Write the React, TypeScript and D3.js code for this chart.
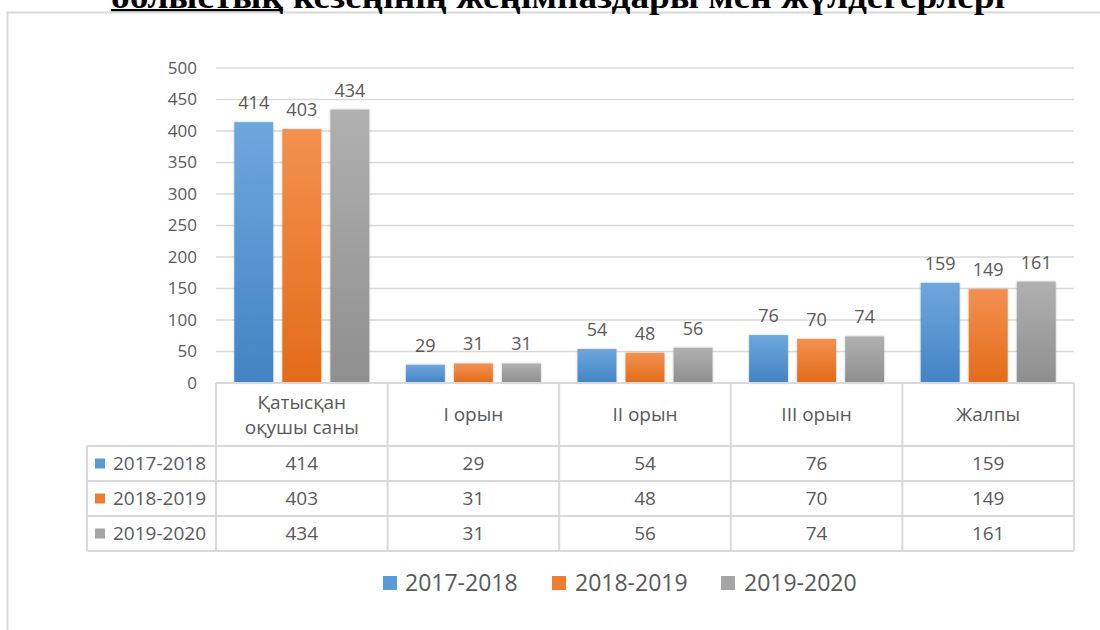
import React from "react";
import * as d3 from "d3";

const categories = ["Қатысқан оқушы саны", "I орын", "II орын", "III орын", "Жалпы"];
const categoryLines = [["Қатысқан", "оқушы саны"], ["I орын"], ["II орын"], ["III орын"], ["Жалпы"]];
const series = ["2017-2018", "2018-2019", "2019-2020"];
const values2017 = [414, 29, 54, 76, 159];
const values2018 = [403, 31, 48, 70, 149];
const values2019 = [434, 31, 56, 74, 161];
const yTicks = [0, 50, 100, 150, 200, 250, 300, 350, 400, 450, 500];
const titleUnderlined = "облыстық";
const titleRest = "кезеңінің жеңімпаздары мен жүлдегерлері";

const seriesValues = [values2017, values2018, values2019];
const colors = [
  { top: "#6ea7dd", bottom: "#4383c4", legend: "#5b9bd5" },
  { top: "#f39150", bottom: "#e36b18", legend: "#ed7d31" },
  { top: "#b0b0b0", bottom: "#8f8f8f", legend: "#a5a5a5" },
];

const FONT = "'Open Sans', sans-serif";
const TEXT = "#595959";
const GRID = "#d9d9d9";

export default function App() {
  const W = 1100, H = 630;
  const plotLeft = 216, plotRight = 1074;
  const y = d3.scaleLinear().domain([0, 500]).range([383, 68]);
  const x = d3.scaleBand<string>().domain(categories).range([plotLeft, plotRight]);
  const groupW = 135;
  const x1 = d3.scaleBand<string>().domain(series).range([0, groupW]).paddingInner(0.19);
  const headerTop = y(0), headerBottom = 446, rowH = 35;
  const tableLeft = 87;
  const rowTops = series.map((_, i) => headerBottom + i * rowH);
  const tableBottom = headerBottom + series.length * rowH;
  const legendItems = [
    { sq: 383, tx: 405 },
    { sq: 552, tx: 575 },
    { sq: 721, tx: 744 },
  ];

  return (
    <svg width={W} height={H} style={{ position: "absolute", left: 0, top: 0, background: "#fff" }}>
      <defs>
        {colors.map((c, i) => (
          <linearGradient key={i} id={`g${i}`} x1="0" y1="0" x2="0" y2="1">
            <stop offset="0" stopColor={c.top} />
            <stop offset="1" stopColor={c.bottom} />
          </linearGradient>
        ))}
        <filter id="sh" x="-20%" y="-20%" width="140%" height="140%">
          <feDropShadow dx="0" dy="0" stdDeviation="1.2" floodColor="#000" floodOpacity="0.25" />
        </filter>
      </defs>

      <rect x={7.5} y={12.5} width={1300} height={800} fill="none" stroke={GRID} strokeWidth={2} />

      {/* title (cut off at top) */}
      <text x={111} y={8} fontFamily="'Liberation Serif', 'Times New Roman', serif" fontWeight="bold" fontSize={34}
        textLength={172} lengthAdjust="spacingAndGlyphs" fill="#000">{titleUnderlined}</text>
      <rect x={111} y={9} width={172} height={2.2} fill="#000" />
      <text x={293} y={8} fontFamily="'Liberation Serif', 'Times New Roman', serif" fontWeight="bold" fontSize={34}
        textLength={712} lengthAdjust="spacingAndGlyphs" fill="#000">{titleRest}</text>

      {/* gridlines and y ticks */}
      {yTicks.map((t) => (
        <g key={t}>
          {t > 0 && <line x1={plotLeft} x2={plotRight} y1={y(t)} y2={y(t)} stroke={GRID} strokeWidth={1.5} />}
          <text x={197} y={y(t)} dy="0.35em" textAnchor="end" fontFamily={FONT} fontSize={17} fill={TEXT}>{t}</text>
        </g>
      ))}

      {/* bars */}
      {categories.map((c, ci) => {
        const gx = (x(c) as number) + (x.bandwidth() - groupW) / 2;
        return (
          <g key={c}>
            {series.map((s, si) => {
              const v = seriesValues[si][ci];
              const bx = gx + (x1(s) as number);
              return (
                <g key={s}>
                  <rect x={bx} y={y(v)} width={x1.bandwidth()} height={y(0) - y(v)} fill={`url(#g${si})`} filter="url(#sh)" />
                  <text x={bx + x1.bandwidth() / 2} y={y(v) - 13} textAnchor="middle" fontFamily={FONT} fontSize={18} fill={TEXT}>{v}</text>
                </g>
              );
            })}
          </g>
        );
      })}

      {/* data table */}
      <line x1={plotLeft} x2={plotRight} y1={headerTop} y2={headerTop} stroke={GRID} strokeWidth={2} />
      {[...rowTops, tableBottom].map((ry, i) => (
        <line key={i} x1={tableLeft} x2={plotRight} y1={ry} y2={ry} stroke={GRID} strokeWidth={2} />
      ))}
      <line x1={tableLeft} x2={tableLeft} y1={headerBottom} y2={tableBottom} stroke={GRID} strokeWidth={2} />
      {[...categories.map((c) => x(c) as number), plotRight].map((vx, i) => (
        <line key={i} x1={vx} x2={vx} y1={headerTop} y2={tableBottom} stroke={GRID} strokeWidth={2} />
      ))}
      {categories.map((c, ci) => {
        const cx = (x(c) as number) + x.bandwidth() / 2;
        const lines = categoryLines[ci];
        const mid = (headerTop + headerBottom) / 2;
        return lines.map((ln, li) => (
          <text key={c + li} x={cx} y={mid + (li - (lines.length - 1) / 2) * 25} dy="0.35em" textAnchor="middle"
            fontFamily={FONT} fontSize={19} fill={TEXT}>{ln}</text>
        ));
      })}
      {series.map((s, si) => {
        const cy = rowTops[si] + rowH / 2;
        return (
          <g key={s}>
            <rect x={95} y={cy - 5} width={10} height={10} fill={colors[si].legend} />
            <text x={113} y={cy} dy="0.35em" fontFamily={FONT} fontSize={19} fill={TEXT}>{s}</text>
            {categories.map((c, ci) => (
              <text key={c} x={(x(c) as number) + x.bandwidth() / 2} y={cy} dy="0.35em" textAnchor="middle"
                fontFamily={FONT} fontSize={19} fill={TEXT}>{seriesValues[si][ci]}</text>
            ))}
          </g>
        );
      })}

      {/* legend */}
      {series.map((s, si) => (
        <g key={s}>
          <rect x={legendItems[si].sq} y={576} width={14} height={14} fill={colors[si].legend} />
          <text x={legendItems[si].tx} y={583} dy="0.35em" fontFamily={FONT} fontSize={23} fill={TEXT}>{s}</text>
        </g>
      ))}
    </svg>
  );
}
